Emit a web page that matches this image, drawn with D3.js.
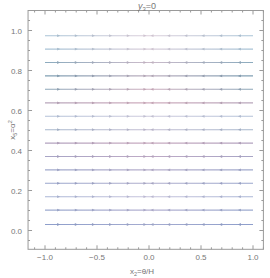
<!DOCTYPE html>
<html>
<head>
<meta charset="utf-8">
<script src="https://cdn.jsdelivr.net/npm/d3@7"></script>
<style>
  body { margin: 0; background: #fff; }
  text { font-family: "Liberation Sans", "DejaVu Sans", sans-serif; fill: #777; }
</style>
</head>
<body>
<svg id="svg"></svg>
<script>
// stream rows (x5 values) and their colours at the edges / in the middle
const rowY = [0.974, 0.907, 0.84, 0.773, 0.706, 0.638, 0.571, 0.504,
              0.437, 0.37, 0.303, 0.236, 0.169, 0.102, 0.03];
const edgeColor = ['#a8c3d6', '#a8c3d6', '#8cabbe', '#7f9fb3', '#8ca6b8', '#b8a6bb', '#b3c1d8', '#a6b6cc',
                   '#b2a2bf', '#a8a5c6', '#a0a9cc', '#99a5cc', '#aab6d6', '#9caacf', '#8e9ecb'];
const midColor  = ['#dccfdb', '#dacfdb', '#cbbbca', '#bdafbf', '#cdadbe', '#cfadbe', '#cdcadd', '#c2bdd2',
                   '#c8abc0', '#beaac6', '#b7afcc', '#afadcc', '#c6c3dc', '#b4b1d1', '#a5acd0'];
const arrowsRight = [-0.87, -0.70, -0.535, -0.37, -0.20, -0.04];
const arrowsLeft = [0.03, 0.19, 0.355, 0.52, 0.69, 0.87];
const xTicks = [-1.0, -0.5, 0.0, 0.5, 1.0];
const yTicks = [0.0, 0.2, 0.4, 0.6, 0.8, 1.0];

const W = 270, H = 278;
const svg = d3.select('#svg').attr('width', W).attr('height', H);

const x = d3.scaleLinear().domain([-1, 1]).range([45, 253]);
const y = d3.scaleLinear().domain([0, 1]).range([230.5, 30.5]);
const xr = [-1.163, 1.1], yr = [-0.094, 1.1];

const defs = svg.append('defs');
rowY.forEach((v, i) => {
   let g = defs.append('linearGradient').attr('id', 'g' + i)
      .attr('gradientUnits', 'userSpaceOnUse')
      .attr('x1', x(-1)).attr('x2', x(1)).attr('y1', 0).attr('y2', 0);
   g.append('stop').attr('offset', 0).attr('stop-color', edgeColor[i]);
   g.append('stop').attr('offset', 0.5).attr('stop-color', midColor[i]);
   g.append('stop').attr('offset', 1).attr('stop-color', edgeColor[i]);
});

// streams
const rows = svg.append('g').selectAll('g').data(rowY).join('g');
rows.append('line')
   .attr('x1', x(-1)).attr('x2', x(1))
   .attr('y1', d => y(d)).attr('y2', d => y(d))
   .attr('stroke', (d, i) => 'url(#g' + i + ')')
   .attr('stroke-width', 1.1);

rows.each(function(d, i) {
   let row = d3.select(this);
   let col = d3.interpolateRgb(edgeColor[i], midColor[i]);
   arrowsRight.forEach(a => {
      let px = x(a), py = y(d);
      row.append('path')
         .attr('d', `M${px + 1.6},${py} L${px - 1.4},${py - 1.4} L${px - 1.4},${py + 1.4} Z`)
         .attr('fill', d3.color(col(1 - Math.abs(a))).darker(0.15));
   });
   arrowsLeft.forEach(a => {
      let px = x(a), py = y(d);
      row.append('path')
         .attr('d', `M${px - 1.6},${py} L${px + 1.4},${py - 1.4} L${px + 1.4},${py + 1.4} Z`)
         .attr('fill', d3.color(col(1 - Math.abs(a))).darker(0.15));
   });
});

// frame
const fx0 = x(xr[0]), fx1 = x(xr[1]), fy0 = y(yr[0]), fy1 = y(yr[1]);
svg.append('rect')
   .attr('x', fx0).attr('y', fy1)
   .attr('width', fx1 - fx0).attr('height', fy0 - fy1)
   .attr('fill', 'none').attr('stroke', '#9a9a9a').attr('stroke-width', 1);

const ticks = svg.append('g').attr('stroke', '#9a9a9a').attr('stroke-width', 1);
d3.range(-11, 12).map(k => k / 10).forEach(t => {
   let len = Math.abs(Math.round(t * 10)) % 5 === 0 ? 4 : 2;
   ticks.append('line').attr('x1', x(t)).attr('x2', x(t)).attr('y1', fy0).attr('y2', fy0 - len);
   ticks.append('line').attr('x1', x(t)).attr('x2', x(t)).attr('y1', fy1).attr('y2', fy1 + len);
});
d3.range(-1, 22).map(k => k / 20).forEach(t => {
   if (t < yr[0] || t > yr[1]) return;
   let len = Math.round(t * 20) % 4 === 0 ? 4 : 2;
   ticks.append('line').attr('y1', y(t)).attr('y2', y(t)).attr('x1', fx0).attr('x2', fx0 + len);
   ticks.append('line').attr('y1', y(t)).attr('y2', y(t)).attr('x1', fx1).attr('x2', fx1 - len);
});

svg.append('g').selectAll('text').data(xTicks).join('text')
   .attr('x', d => x(d)).attr('y', fy0 + 11)
   .attr('text-anchor', 'middle').attr('font-size', 8)
   .text(d => d3.format('.1f')(d).replace('-', '\u2212'));

svg.append('g').selectAll('text').data(yTicks).join('text')
   .attr('x', fx0 - 6).attr('y', d => y(d) + 3)
   .attr('text-anchor', 'end').attr('font-size', 8)
   .text(d => d3.format('.1f')(d));

// labels
let title = svg.append('text').attr('x', 147).attr('y', 8.5)
   .attr('text-anchor', 'middle').attr('font-size', 9);
title.append('tspan').attr('font-style', 'italic').text('y');
title.append('tspan').attr('font-size', 6).attr('dy', 2).text('3');
title.append('tspan').attr('dy', -2).text('=0');

let xl = svg.append('text').attr('x', 142).attr('y', 274)
   .attr('text-anchor', 'middle').attr('font-size', 8);
xl.append('tspan').text('x');
xl.append('tspan').attr('font-size', 5.5).attr('dy', 2).text('2');
xl.append('tspan').attr('dy', -2).text('=θ/H');

let yl = svg.append('text').attr('transform', 'translate(15,130) rotate(-90)')
   .attr('text-anchor', 'middle').attr('font-size', 8);
yl.append('tspan').text('x');
yl.append('tspan').attr('font-size', 5.5).attr('dy', 2).text('5');
yl.append('tspan').attr('dy', -2).text('=α');
yl.append('tspan').attr('font-size', 5.5).attr('dy', -3).text('2');
</script>
</body>
</html>
